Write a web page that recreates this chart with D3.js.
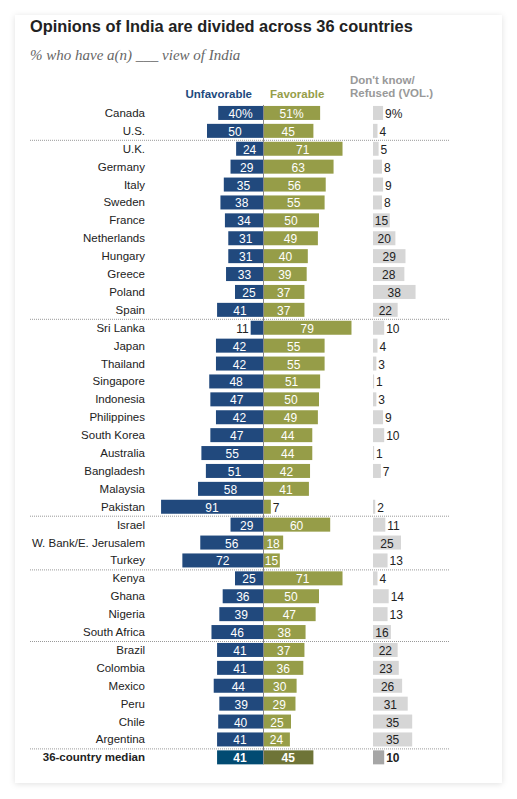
<!DOCTYPE html>
<html>
<head>
<meta charset="utf-8">
<script src="https://cdn.jsdelivr.net/npm/d3@7"></script>
<style>
  html, body { margin: 0; padding: 0; background: #fff; }
  svg { display: block; }
</style>
</head>
<body>
<div id="chart"></div>
<script>
// data
const countries = ['Canada', 'U.S.', 'U.K.', 'Germany', 'Italy', 'Sweden', 'France', 'Netherlands',
  'Hungary', 'Greece', 'Poland', 'Spain', 'Sri Lanka', 'Japan', 'Thailand', 'Singapore', 'Indonesia',
  'Philippines', 'South Korea', 'Australia', 'Bangladesh', 'Malaysia', 'Pakistan', 'Israel',
  'W. Bank/E. Jerusalem', 'Turkey', 'Kenya', 'Ghana', 'Nigeria', 'South Africa', 'Brazil',
  'Colombia', 'Mexico', 'Peru', 'Chile', 'Argentina', '36-country median'];
const unfavorable = [40, 50, 24, 29, 35, 38, 34, 31, 31, 33, 25, 41, 11, 42, 42, 48, 47, 42, 47, 55,
  51, 58, 91, 29, 56, 72, 25, 36, 39, 46, 41, 41, 44, 39, 40, 41, 41];
const favorable = [51, 45, 71, 63, 56, 55, 50, 49, 40, 39, 37, 37, 79, 55, 55, 51, 50, 49, 44, 44,
  42, 41, 7, 60, 18, 15, 71, 50, 47, 38, 37, 36, 30, 29, 25, 24, 45];
const dontKnow = [9, 4, 5, 8, 9, 8, 15, 20, 29, 28, 38, 22, 10, 4, 3, 1, 3, 9, 10, 1,
  7, null, 2, 11, 25, 13, 4, 14, 13, 16, 22, 23, 26, 31, 35, 35, 10];
// a dotted rule is drawn below these rows
const groupEnds = ['U.S.', 'Spain', 'Pakistan', 'Turkey', 'South Africa', 'Argentina'];
const medianName = '36-country median';

const width = 517;
const height = 799;
const font = "'Liberation Sans', Arial, sans-serif";

const col = {
  unfav: '#21497d', fav: '#969d48', dk: '#d6d6d6',
  unfavMed: '#024b72', favMed: '#6e7437', dkMed: '#a6a6a6',
};

const svg = d3.select('#chart').append('svg')
  .attr('width', width)
  .attr('height', height);

const defs = svg.append('defs');
const shadow = defs.append('filter').attr('id', 'shadow')
  .attr('x', '-10%').attr('y', '-10%').attr('width', '120%').attr('height', '120%');
shadow.append('feDropShadow')
  .attr('dx', 0).attr('dy', 1).attr('stdDeviation', 3)
  .attr('flood-color', '#000').attr('flood-opacity', 0.12);

svg.append('rect')
  .attr('x', 15).attr('y', 15).attr('width', 487).attr('height', 768)
  .attr('fill', '#fff')
  .attr('filter', 'url(#shadow)');

// title + subtitle
const title = svg.append('text')
  .attr('x', 30).attr('y', 32)
  .style('font-family', font)
  .style('font-weight', 'bold')
  .style('font-size', '17px')
  .attr('fill', '#222')
  .text('Opinions of India are divided across 36 countries');
// squeeze to the width of the condensed original face
const tw = title.node().getComputedTextLength();
if (tw > 383) title.style('font-size', `${(17 * 383) / tw}px`);

const sub = svg.append('text')
  .attr('x', 30).attr('y', 60)
  .style('font-family', "'Liberation Serif', 'DejaVu Serif', serif")
  .style('font-style', 'italic')
  .style('font-size', '15px')
  .attr('fill', '#666')
  .text('% who have a(n) ___ view of India');
const sw = sub.node().getComputedTextLength();
if (sw > 212) sub.style('font-size', `${(15 * 212) / sw}px`);

// scales
const center = 263;
const dkStart = 373;
const x = d3.scaleLinear().domain([0, 100]).range([0, 112]);
const step = 17.9;
const y = d3.scalePoint()
  .domain(countries)
  .range([104, 104 + step * countries.length])
  .padding(0.5);
const barH = 14;

// column headers
svg.append('text')
  .attr('x', 252).attr('y', 98)
  .attr('text-anchor', 'end')
  .style('font-family', font).style('font-weight', 'bold').style('font-size', '11.5px')
  .attr('fill', col.unfav)
  .text('Unfavorable');
svg.append('text')
  .attr('x', 270).attr('y', 98)
  .style('font-family', font).style('font-weight', 'bold').style('font-size', '11.5px')
  .attr('fill', col.fav)
  .text('Favorable');
svg.append('text')
  .attr('x', 350).attr('y', 84)
  .style('font-family', font).style('font-weight', 'bold').style('font-size', '11.5px')
  .attr('fill', '#999')
  .text("Don't know/");
svg.append('text')
  .attr('x', 350).attr('y', 97)
  .style('font-family', font).style('font-weight', 'bold').style('font-size', '11.5px')
  .attr('fill', '#999')
  .text('Refused (VOL.)');

const rows = countries.map((name, i) => ({
  name,
  unf: unfavorable[i],
  fav: favorable[i],
  dk: dontKnow[i],
  median: name === medianName,
  first: i === 0,
}));

// dotted group rules
svg.selectAll('.rule')
  .data(groupEnds)
  .enter()
  .append('line')
  .attr('class', 'rule')
  .attr('x1', 30).attr('x2', 449)
  .attr('y1', (d) => y(d) + step / 2 + 0.5)
  .attr('y2', (d) => y(d) + step / 2 + 0.5)
  .attr('stroke', '#999')
  .attr('stroke-width', 1)
  .attr('stroke-dasharray', '1,1');

const row = svg.selectAll('.row')
  .data(rows)
  .enter()
  .append('g')
  .attr('class', 'row')
  .attr('transform', (d) => `translate(0 ${y(d.name)})`);

// country names
row.append('text')
  .attr('x', 145).attr('y', 4)
  .attr('text-anchor', 'end')
  .style('font-family', font)
  .style('font-size', '11.5px')
  .style('font-weight', (d) => (d.median ? 'bold' : 'normal'))
  .attr('fill', '#222')
  .text((d) => d.name);

// unfavorable bars (to the left)
row.append('rect')
  .attr('x', (d) => center - x(d.unf))
  .attr('y', -barH / 2)
  .attr('width', (d) => x(d.unf))
  .attr('height', barH)
  .attr('fill', (d) => (d.median ? col.unfavMed : col.unfav));

// favorable bars (to the right)
row.append('rect')
  .attr('x', center)
  .attr('y', -barH / 2)
  .attr('width', (d) => x(d.fav))
  .attr('height', barH)
  .attr('fill', (d) => (d.median ? col.favMed : col.fav));

// don't know bars
row.filter((d) => d.dk !== null)
  .append('rect')
  .attr('x', dkStart)
  .attr('y', -barH / 2)
  .attr('width', (d) => x(d.dk))
  .attr('height', barH)
  .attr('fill', (d) => (d.median ? col.dkMed : col.dk));

const pct = (d, v) => (d.first ? `${v}%` : `${v}`);

// unfavorable labels
row.append('text')
  .attr('x', (d) => (d.unf < 15 ? center - x(d.unf) - 2 : center - x(d.unf) / 2))
  .attr('y', 5)
  .attr('text-anchor', (d) => (d.unf < 15 ? 'end' : 'middle'))
  .style('font-family', font)
  .style('font-size', '12px')
  .style('font-weight', (d) => (d.median ? 'bold' : 'normal'))
  .attr('fill', (d) => (d.unf < 15 ? '#222' : '#fff'))
  .text((d) => pct(d, d.unf));

// favorable labels
row.append('text')
  .attr('x', (d) => (d.fav < 12 ? center + x(d.fav) + 2 : center + x(d.fav) / 2))
  .attr('y', 5)
  .attr('text-anchor', (d) => (d.fav < 12 ? 'start' : 'middle'))
  .style('font-family', font)
  .style('font-size', '12px')
  .style('font-weight', (d) => (d.median ? 'bold' : 'normal'))
  .attr('fill', (d) => (d.fav < 12 ? '#222' : '#fff'))
  .text((d) => pct(d, d.fav));

// don't know labels
row.filter((d) => d.dk !== null)
  .append('text')
  .attr('x', (d) => (d.dk < 15 ? dkStart + x(d.dk) + 2 : dkStart + x(d.dk) / 2))
  .attr('y', 5)
  .attr('text-anchor', (d) => (d.dk < 15 ? 'start' : 'middle'))
  .style('font-family', font)
  .style('font-size', '12px')
  .style('font-weight', (d) => (d.median ? 'bold' : 'normal'))
  .attr('fill', '#222')
  .text((d) => pct(d, d.dk));

// center axis line
svg.append('line')
  .attr('x1', center + 0.5).attr('x2', center + 0.5)
  .attr('y1', y(countries[0]) - barH / 2 - 1)
  .attr('y2', y(medianName) + barH / 2)
  .attr('stroke', '#888')
  .attr('stroke-width', 1);
</script>
</body>
</html>
